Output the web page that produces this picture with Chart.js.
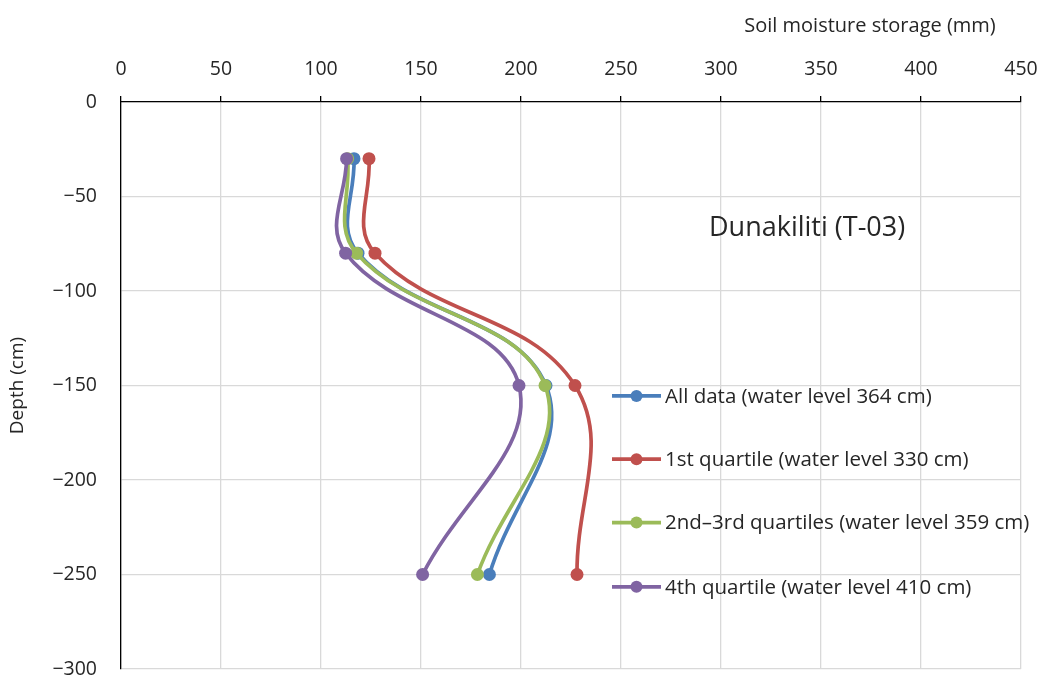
<!DOCTYPE html>
<html>
<head>
<meta charset="utf-8">
<script src="https://cdn.jsdelivr.net/npm/chart.js@4.4.1/dist/chart.umd.min.js"></script>
<style>
  html, body { margin: 0; padding: 0; background: #fff; }
</style>
</head>
<body>
<canvas id="myChart" width="1038" height="677"></canvas>
<script>
// depth of each measurement (cm)
let depths = [-30, -80, -150, -250];

// soil moisture storage (mm) per series
let allData = [116.5, 118.5, 212.5, 184.2];
let quartile1 = [124, 127, 227, 228];
let quartile23 = [113.3, 117.8, 212, 178.2];
let quartile4 = [112.8, 112.3, 199, 150.8];

let seriesNames = [
    "All data (water level 364 cm)",
    "1st quartile (water level 330 cm)",
    "2nd\u20133rd quartiles (water level 359 cm)",
    "4th quartile (water level 410 cm)"
];
let seriesColors = ["#4a7ebb", "#c0504d", "#9bbb59", "#8064a2"];

let xTicks = [0, 50, 100, 150, 200, 250, 300, 350, 400, 450];
let yTicks = [0, -50, -100, -150, -200, -250, -300];

let fontFamily = "'Open Sans', sans-serif";
let textColor = "#262626";

function toPoints(values) {
    let pts = [];
    for (let i = 0; i < values.length; i++) {
        pts.push({x: values[i], y: depths[i]});
    }
    return pts;
}

let allSeries = [allData, quartile1, quartile23, quartile4];
let datasets = [];
for (let i = 0; i < allSeries.length; i++) {
    datasets.push({
        label: seriesNames[i],
        data: toPoints(allSeries[i]),
        borderColor: seriesColors[i],
        backgroundColor: seriesColors[i],
        borderWidth: 3.7,
        pointRadius: 6.5,
        pointHoverRadius: 6.5,
        pointBorderWidth: 0,
        showLine: true,
        tension: 0.4,
        order: 4 - i
    });
}

// axis title, station label and legend drawn on top of the plot
const extras = {
    id: "extras",
    afterDraw(chart) {
        let ctx = chart.ctx;
        let xs = chart.scales.x;
        let ys = chart.scales.y;
        ctx.save();
        ctx.fillStyle = textColor;
        ctx.textBaseline = "middle";

        ctx.font = "20px " + fontFamily;
        ctx.textAlign = "center";
        ctx.fillText("Soil moisture storage (mm)", 870, 26);

        ctx.font = "27px " + fontFamily;
        ctx.textAlign = "left";
        ctx.fillText("Dunakiliti (T-03)", xs.getPixelForValue(294), ys.getPixelForValue(-67));

        // legend
        let lx = xs.getPixelForValue(245.5);
        let rowY = [-155.5, -189, -222.5, -256.5];
        ctx.font = "20.5px " + fontFamily;
        for (let i = 0; i < seriesNames.length; i++) {
            let y = ys.getPixelForValue(rowY[i]);
            ctx.strokeStyle = seriesColors[i];
            ctx.lineWidth = 3.7;
            ctx.beginPath();
            ctx.moveTo(lx, y);
            ctx.lineTo(lx + 49, y);
            ctx.stroke();
            ctx.fillStyle = seriesColors[i];
            ctx.beginPath();
            ctx.arc(lx + 24.5, y, 6, 0, Math.PI * 2);
            ctx.fill();
            ctx.fillStyle = textColor;
            ctx.fillText(seriesNames[i], lx + 53, y + 1);
        }
        ctx.restore();
    }
};

new Chart("myChart", {
    type: "scatter",
    data: {datasets: datasets},
    options: {
        responsive: false,
        animation: false,
        layout: {padding: {top: 2, left: 0, right: 17, bottom: 8}},
        plugins: {
            legend: {display: false},
            tooltip: {enabled: false}
        },
        scales: {
            x: {
                type: "linear",
                position: "top",
                min: 0,
                max: 450,
                afterBuildTicks: (scale) => { scale.ticks = xTicks.map(v => ({value: v})); },
                afterFit: (scale) => {
                    scale.height = 100;
                    scale.paddingLeft = 0;
                    scale.paddingRight = 0;
                    scale.paddingTop = 0;
                    scale.paddingBottom = 0;
                },
                border: {display: true, color: "#000", width: 1.3},
                grid: {color: "#d9d9d9", lineWidth: 1.3, tickColor: "#000", tickLength: 6, drawTicks: true},
                ticks: {color: textColor, font: {family: fontFamily, size: 19.5}, padding: 15, maxRotation: 0}
            },
            y: {
                type: "linear",
                min: -300,
                max: 0,
                afterBuildTicks: (scale) => { scale.ticks = yTicks.map(v => ({value: v})); },
                afterFit: (scale) => {
                    scale.width = 121;
                    scale.paddingLeft = 0;
                    scale.paddingRight = 0;
                    scale.paddingTop = 0;
                    scale.paddingBottom = 0;
                },
                border: {display: true, color: "#000", width: 1.3},
                grid: {color: "#d9d9d9", lineWidth: 1.3, drawTicks: false},
                ticks: {
                    color: textColor,
                    font: {family: fontFamily, size: 19.5},
                    padding: 24,
                    callback: (v) => String(v).replace("-", "\u2212")
                },
                title: {
                    display: true,
                    text: "Depth (cm)",
                    color: textColor,
                    font: {family: fontFamily, size: 19},
                    padding: {top: 6, bottom: 0}
                }
            }
        }
    },
    plugins: [extras]
});
</script>
</body>
</html>
